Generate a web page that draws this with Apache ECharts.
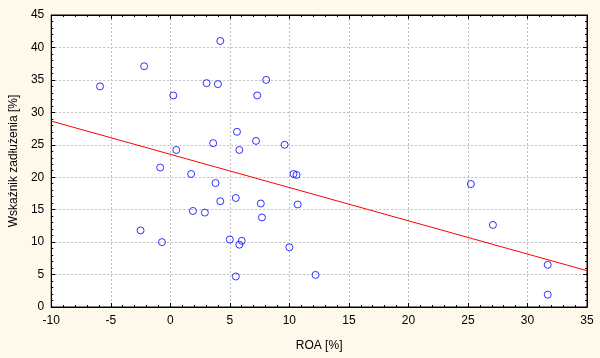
<!DOCTYPE html>
<html><head><meta charset="utf-8">
<script src="https://cdn.jsdelivr.net/npm/echarts@6/dist/echarts.min.js"></script>
<style>html,body{margin:0;padding:0;background:#FFF9EC;}#c{width:600px;height:358px;}</style>
</head><body><div id="c"></div>
<script>
const roa = [-5.9,-2.2,0.25,4.2,3.05,4.0,8.05,7.3,5.6,7.2,9.6,3.6,5.8,0.5,-0.85,1.75,10.35,10.6,3.8,4.2,5.5,7.6,10.7,1.9,2.9,7.7,-2.5,-0.7,5.0,6.0,5.8,10.0,5.5,12.2,25.25,27.1,31.7,31.7];
const debt = [34.0,37.1,32.6,41.0,34.5,34.35,35.0,32.6,27.0,25.6,25.0,25.25,24.2,24.2,21.5,20.5,20.5,20.35,19.1,16.3,16.8,15.95,15.8,14.8,14.55,13.8,11.8,10.0,10.4,10.2,9.6,9.2,4.7,4.95,18.95,12.65,6.5,1.9];
const fitX = [-10, 35];
const fitY = [28.65, 5.6];
const xTitle = 'ROA [%]';
const yTitle = 'Wskaźnik zadłużenia [%]';

const font = 'Liberation Sans, Arial, sans-serif';
const chart = echarts.init(document.getElementById('c'));
const tickCommon = {
  axisLine:{show:true,onZero:false,lineStyle:{color:'#000',width:1}},
  axisTick:{show:true,inside:true,length:4,lineStyle:{color:'#000'}},
  minorTick:{show:true,splitNumber:5,length:2,lineStyle:{color:'#000'}},
};
chart.setOption({
  animation:false,
  backgroundColor:'#FFF9EC',
  grid:{left:48,right:13,top:15,bottom:51,show:true,backgroundColor:'#fff',borderColor:'#000',borderWidth:1},
  xAxis:[
    Object.assign({type:'value',min:-10,max:35,interval:5,position:'bottom',
      name:xTitle,nameLocation:'middle',nameGap:33,
      nameTextStyle:{fontFamily:font,fontSize:12,color:'#000'},
      axisLabel:{fontFamily:font,fontSize:12,color:'#000',margin:8},
      splitLine:{show:true,lineStyle:{color:'#bdbdbd',type:[2,2]}}},tickCommon),
    Object.assign({type:'value',min:-10,max:35,interval:5,position:'top',
      axisLabel:{show:false},splitLine:{show:false}},tickCommon)
  ],
  yAxis:[
    Object.assign({type:'value',min:0,max:45,interval:5,position:'left',
      name:yTitle,nameLocation:'middle',nameGap:29,nameRotate:90,
      nameTextStyle:{fontFamily:font,fontSize:12,color:'#000'},
      axisLabel:{fontFamily:font,fontSize:12,color:'#000',margin:7},
      splitLine:{show:true,lineStyle:{color:'#bdbdbd',type:[2,2]}}},tickCommon),
    Object.assign({type:'value',min:0,max:45,interval:5,position:'right',
      axisLabel:{show:false},splitLine:{show:false}},tickCommon)
  ],
  series:[
    {type:'line',data:fitX.map((x,i)=>[x,fitY[i]]),symbol:'none',
      lineStyle:{color:'#ff0000',width:1},z:2},
    {type:'scatter',data:roa.map((x,i)=>[x,debt[i]]),symbol:'circle',symbolSize:7,
      itemStyle:{color:'rgba(0,0,0,0)',borderColor:'#0000ff',borderWidth:1},z:3}
  ]
});
</script></body></html>
